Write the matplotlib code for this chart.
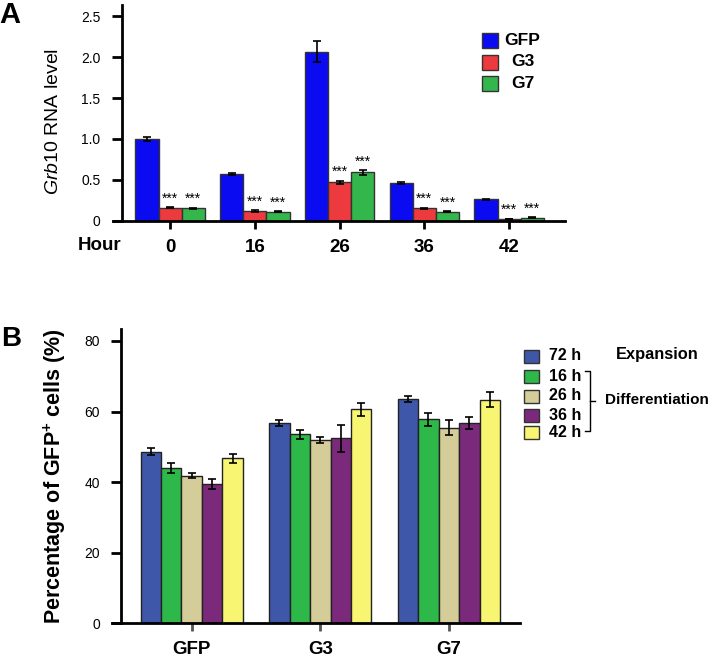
import matplotlib
matplotlib.use('Agg')
import numpy as np
import matplotlib.pyplot as plt
from matplotlib.patches import Rectangle
from matplotlib.lines import Line2D

plt.rcParams['font.family'] = ['Liberation Sans', 'DejaVu Sans']
plt.rcParams['mathtext.fontset'] = 'custom'
plt.rcParams['mathtext.it'] = 'Liberation Sans:italic'
plt.rcParams['mathtext.rm'] = 'Liberation Sans'
plt.rcParams['mathtext.bf'] = 'Liberation Sans:bold'

# ---- Panel A data ----
hours = ['0', '16', '26', '36', '42']
a_series = ['GFP', 'G3', 'G7']
a_gfp = [1.00, 0.57, 2.07, 0.46, 0.26]
a_g3 = [0.16, 0.12, 0.47, 0.15, 0.02]
a_g7 = [0.15, 0.11, 0.59, 0.11, 0.035]
a_gfp_err = [0.02, 0.01, 0.13, 0.01, 0.01]
a_g3_err = [0.006, 0.008, 0.02, 0.008, 0.004]
a_g7_err = [0.01, 0.006, 0.03, 0.006, 0.005]
a_colors = ['#0B0BF2', '#EC3A3F', '#33B64B']

# ---- Panel B data ----
groups = ['GFP', 'G3', 'G7']
b_series = ['72 h', '16 h', '26 h', '36 h', '42 h']
b_vals = [
    [48.6, 56.8, 63.5],   # 72 h
    [43.9, 53.5, 57.8],   # 16 h
    [41.8, 52.0, 55.4],   # 26 h
    [39.5, 52.4, 56.7],   # 36 h
    [46.7, 60.6, 63.4],   # 42 h
]
b_errs = [
    [0.95, 0.9, 0.8],
    [1.4, 1.2, 1.8],
    [0.7, 0.8, 2.1],
    [1.4, 3.8, 1.7],
    [1.2, 1.8, 2.0],
]
b_colors = ['#3F57A8', '#2EB84A', '#D4CD9A', '#7B2A7B', '#F8F572']

W, H = 718, 662
fig = plt.figure(figsize=(W / 100, H / 100), dpi=100)


def fx(x):
    return x / W


def fy(y):
    return 1 - y / H


def style_axes(ax, left_frac):
    for s in ['top', 'right']:
        ax.spines[s].set_visible(False)
    ax.spines['left'].set_position(('axes', left_frac))
    ax.spines['left'].set_linewidth(2)
    ax.spines['bottom'].set_linewidth(2)
    ax.tick_params(width=2, length=6, direction='out')


# ================= Panel A =================
axA = fig.add_axes([fx(113), fy(220.7), fx(565 - 113), (220.7 - 5) / H])
x = np.arange(len(hours))
bw = 0.273
a_vals = [a_gfp, a_g3, a_g7]
a_errs = [a_gfp_err, a_g3_err, a_g7_err]
for i, (vals, errs) in enumerate(zip(a_vals, a_errs)):
    pos = x + (i - 1) * bw
    axA.bar(pos, vals, bw, color=a_colors[i], edgecolor='#333333', linewidth=1)
    axA.errorbar(pos, vals, yerr=errs, fmt='none', ecolor='black',
                 elinewidth=1.2, capsize=3, capthick=1.2)
    if i > 0:
        for p, v, e in zip(pos, vals, errs):
            axA.text(p, v + e + 0.02, '***', ha='center', va='bottom', fontsize=10)
axA.set_xlim(-0.675, 4.66)
axA.set_ylim(0, 2.64)
axA.set_yticks([0, 0.5, 1.0, 1.5, 2.0, 2.5])
axA.set_yticklabels(['0', '0.5', '1.0', '1.5', '2.0', '2.5'], fontsize=12, fontweight='bold')
axA.set_xticks(x)
axA.set_xticklabels(hours, fontsize=13.5, fontweight='bold')
style_axes(axA, 9 / 452)
axA.tick_params(axis='x', pad=7)
axA.tick_params(axis='y', length=7, pad=8.5)
axA.set_ylabel(r'$\it{Grb10}$ RNA level', fontsize=14)
axA.yaxis.set_label_coords(-0.113, 0.46)
fig.text(fx(99.5), fy(246), 'Hour', ha='center', va='center', fontsize=13.5, fontweight='bold')
fig.text(fx(10), fy(15), 'A', ha='center', va='center', fontsize=21, fontweight='bold')

# legend A
a_leg_y = [40.8, 62, 83]
for name, col, yy in zip(a_series, a_colors, a_leg_y):
    fig.patches.append(Rectangle((fx(482), fy(yy + 7.5)), 16 / W, 15 / H,
                                 transform=fig.transFigure, facecolor=col,
                                 edgecolor='#333333', linewidth=1))
    fig.text(fx(522.5), fy(yy), name, ha='center', va='center', fontsize=12.5, fontweight='bold')

# ================= Panel B =================
axB = fig.add_axes([fx(111.7), fy(623.3), fx(520 - 111.7), (623.3 - 329.3) / H])
xb = np.arange(len(groups))
bwb = 0.159
for i, (vals, errs) in enumerate(zip(b_vals, b_errs)):
    pos = xb + (i - 2) * bwb
    axB.bar(pos, vals, bwb, color=b_colors[i], edgecolor='#222222', linewidth=1)
    axB.errorbar(pos, vals, yerr=errs, fmt='none', ecolor='black',
                 elinewidth=1.2, capsize=3, capthick=1.2)
axB.set_xlim(-0.622, 2.553)
axB.set_ylim(0, 83.3)
axB.set_yticks([0, 20, 40, 60, 80])
axB.set_yticklabels(['0', '20', '40', '60', '80'], fontsize=12.5, fontweight='bold')
axB.set_xticks(xb)
axB.set_xticklabels(groups, fontsize=13.5, fontweight='bold')
style_axes(axB, 9 / 408.3)
axB.tick_params(axis='x', pad=7, color='#555555')
axB.tick_params(axis='y', length=7, pad=8)
axB.set_ylabel(r'Percentage of GFP$^{\mathbf{+}}$ cells (%)', fontsize=15.5,
               fontweight='bold')
axB.yaxis.set_label_coords(-0.107, 0.501)
fig.text(fx(11), fy(338.5), 'B', ha='center', va='center', fontsize=20, fontweight='bold')

# legend B
b_leg_y = [356, 376, 396, 415.3, 432.3]
for name, col, yy in zip(b_series, b_colors, b_leg_y):
    fig.patches.append(Rectangle((fx(523.5), fy(yy + 6.5)), 15 / W, 13 / H,
                                 transform=fig.transFigure, facecolor=col,
                                 edgecolor='#333333', linewidth=1))
    fig.text(fx(549), fy(yy), name, ha='left', va='center', fontsize=11.5, fontweight='bold')
fig.text(fx(616), fy(355), 'Expansion', ha='left', va='center', fontsize=11.8, fontweight='bold')
fig.text(fx(605), fy(400), 'Differentiation', ha='left', va='center', fontsize=11, fontweight='bold')
bk = dict(transform=fig.transFigure, color='black', linewidth=1)
fig.add_artist(Line2D([fx(585), fx(590), fx(590), fx(585)],
                      [fy(370.7), fy(370.7), fy(431), fy(431)], **bk))
fig.add_artist(Line2D([fx(590), fx(595)], [fy(400.8), fy(400.8)], **bk))

fig.savefig('out.png', dpi=100)
